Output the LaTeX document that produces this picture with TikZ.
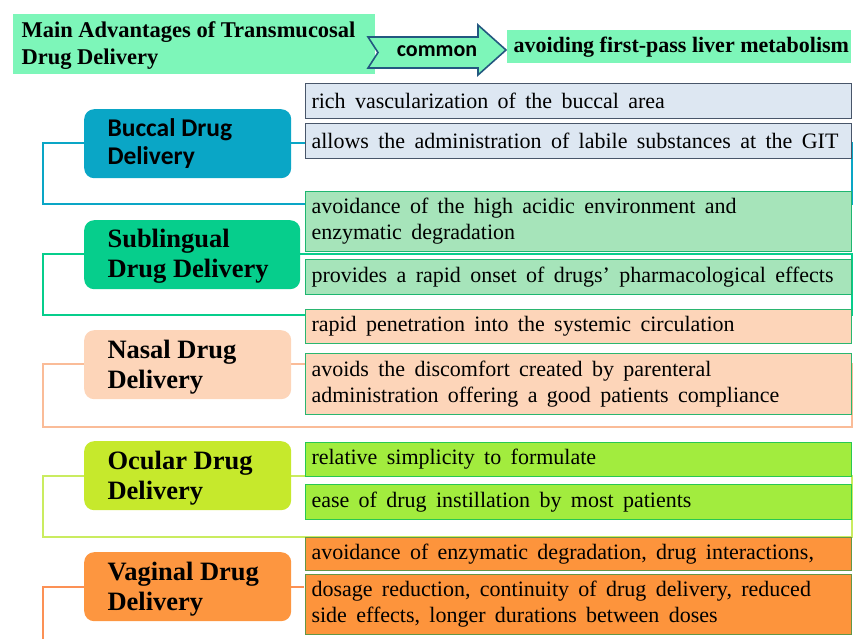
\documentclass[tikz,border=0pt]{standalone}
\usepackage{fontspec}
\setmainfont[WordSpace=1.7]{Liberation Serif}
\newfontfamily\plainserif{Liberation Serif}
\newfontfamily\calib{Carlito}
\usetikzlibrary{backgrounds}
\definecolor{mint}{RGB}{125,246,185}
\definecolor{arrowbd}{RGB}{35,88,128}
\definecolor{bucc}{RGB}{10,166,198}
\definecolor{buccd}{RGB}{221,231,242}
\definecolor{buccdb}{RGB}{72,86,106}
\definecolor{subl}{RGB}{6,206,140}
\definecolor{subld}{RGB}{166,228,186}
\definecolor{subldb}{RGB}{30,182,112}
\definecolor{nasa}{RGB}{253,213,185}
\definecolor{nasal}{RGB}{250,188,152}
\definecolor{nasadb}{RGB}{42,182,112}
\definecolor{ocul}{RGB}{198,233,44}
\definecolor{ocull}{RGB}{202,236,96}
\definecolor{oculd}{RGB}{162,236,62}
\definecolor{oculdb}{RGB}{40,200,82}
\definecolor{vagi}{RGB}{253,150,64}
\definecolor{vagil}{RGB}{252,145,85}
\definecolor{vagid}{RGB}{253,148,60}
\definecolor{vagidb}{RGB}{100,150,70}
\tikzset{
  cat/.style={rounded corners=10pt, minimum width=207pt, minimum height=69pt, inner sep=0pt, anchor=north west},
  cattext/.style={font=\plainserif\fontsize{26.5}{30}\selectfont\bfseries, align=left, anchor=west},
  det/.style={draw, line width=1pt, inner sep=0pt, anchor=north west},
  dettext/.style={font=\fontsize{22}{26}\selectfont, align=left, anchor=west},
  brk/.style={line width=2pt},
}
\begin{document}
\begin{tikzpicture}[x=1pt,y=-1pt]
\useasboundingbox (0,0) rectangle (854,639);
% title
\node[fill=mint, minimum width=362pt, minimum height=60pt, anchor=north west, inner sep=0pt] (title) at (13,14) {};
\node[font=\plainserif\fontsize{22.5}{27}\selectfont\bfseries, align=left, anchor=west] (titletext) at (18,46) {Main Advantages of Transmucosal\\Drug Delivery};
% arrow
\draw[fill=mint, draw=arrowbd, line width=1.6pt, line join=miter]
  (368,37) -- (478,37) -- (478,25) -- (506,50) -- (478,75) -- (478,68) -- (368,68) -- (378,52.5) -- cycle;
\node[font=\calib\fontsize{22}{24}\selectfont\bfseries] (common) at (437,51) {common};
\node[fill=mint, minimum width=344pt, minimum height=33pt, anchor=north west, inner sep=0pt] (result) at (507,30) {};
\node[font=\plainserif\fontsize{22}{24}\selectfont\bfseries, anchor=west] (resulttext) at (510,47) {avoiding first-pass liver metabolism};

% categories
\node[cat, fill=bucc] (buccal) at (84,109) {};
\node[cattext, font=\calib\fontsize{25.5}{28}\selectfont\bfseries] at (104,144) {Buccal Drug\\Delivery};
\node[cat, fill=subl, minimum width=216pt] (subling) at (84,220) {};
\node[cattext] at (104,256) {Sublingual\\Drug Delivery};
\node[cat, fill=nasa] (nasalb) at (84,330) {};
\node[cattext] at (104,367) {Nasal Drug\\Delivery};
\node[cat, fill=ocul] (ocular) at (84,441) {};
\node[cattext] at (104,478) {Ocular Drug\\Delivery};
\node[cat, fill=vagi] (vaginal) at (84,552) {};
\node[cattext] at (104,589) {Vaginal Drug\\Delivery};

% detail boxes
\node[det, fill=buccd, draw=buccdb, minimum width=546pt, minimum height=35pt] (b1) at (305,83) {};
\node[dettext] at (308,101) {rich vascularization of the buccal area};
\node[det, fill=buccd, draw=buccdb, minimum width=546pt, minimum height=35pt] (b2) at (305,123) {};
\node[dettext] at (308,141) {allows the administration of labile substances at the GIT};

\node[det, fill=subld, draw=subldb, minimum width=546pt, minimum height=60pt] (s1) at (305,191) {};
\node[dettext] at (308,221.5) {avoidance of the high acidic environment and\\enzymatic degradation};
\node[det, fill=subld, draw=subldb, minimum width=546pt, minimum height=35pt] (s2) at (305,259) {};
\node[dettext] at (308,277) {provides a rapid onset of drugs' pharmacological effects};

\node[det, fill=nasa, draw=nasadb, minimum width=546pt, minimum height=34pt] (n1) at (305,309) {};
\node[dettext] at (308,326.5) {rapid penetration into the systemic circulation};
\node[det, fill=nasa, draw=nasadb, minimum width=546pt, minimum height=61pt] (n2) at (305,353) {};
\node[dettext] at (308,384) {avoids the discomfort created by parenteral\\administration offering a good patients compliance};

\node[det, fill=oculd, draw=oculdb, minimum width=546pt, minimum height=34pt] (o1) at (305,442) {};
\node[dettext] at (308,459.5) {relative simplicity to formulate};
\node[det, fill=oculd, draw=oculdb, minimum width=546pt, minimum height=35pt] (o2) at (305,484) {};
\node[dettext] at (308,502) {ease of drug instillation by most patients};

\node[det, fill=vagid, draw=vagidb, minimum width=546pt, minimum height=33pt] (v1) at (305,537) {};
\node[dettext] at (308,554) {avoidance of enzymatic degradation, drug interactions,};
\node[det, fill=vagid, draw=vagidb, minimum width=546pt, minimum height=60pt] (v2) at (305,574) {};
\node[dettext] at (308,604.5) {dosage reduction, continuity of drug delivery, reduced\\side effects, longer durations between doses};

% brackets
\coordinate (bl1) at (43,143); \coordinate (bl2) at (43,204); \coordinate (br2) at (852,204); \coordinate (br1) at (852,143);
\coordinate (sl1) at (43,254); \coordinate (sl2) at (43,315); \coordinate (sr2) at (852,315); \coordinate (sr1) at (852,254);
\coordinate (nl1) at (43,364); \coordinate (nl2) at (43,427); \coordinate (nr2) at (852,427); \coordinate (nr1) at (852,364);
\coordinate (ol1) at (43,476); \coordinate (ol2) at (43,537); \coordinate (or2) at (852,537); \coordinate (or1) at (852,476);
\coordinate (vl1) at (43,587); \coordinate (vl2) at (43,645);
\begin{scope}[on background layer]
\draw[brk, draw=bucc] (buccal.west |- bl1) -- (bl1) -- (bl2) -- (br2) -- (br1) -- (buccal.east |- br1);
\draw[brk, draw=subl] (subling.west |- sl1) -- (sl1) -- (sl2) -- (sr2) -- (sr1) -- (subling.east |- sr1);
\draw[brk, draw=nasal] (nasalb.west |- nl1) -- (nl1) -- (nl2) -- (nr2) -- (nr1) -- (nasalb.east |- nr1);
\draw[brk, draw=ocull] (ocular.west |- ol1) -- (ol1) -- (ol2) -- (or2) -- (or1) -- (ocular.east |- or1);
\draw[brk, draw=vagil] (vaginal.west |- vl1) -- (vl1) -- (vl2);
\draw[brk, draw=vagil] (vaginal.east |- vl1) -- ++(13,0);
\end{scope}
\end{tikzpicture}
\end{document}
